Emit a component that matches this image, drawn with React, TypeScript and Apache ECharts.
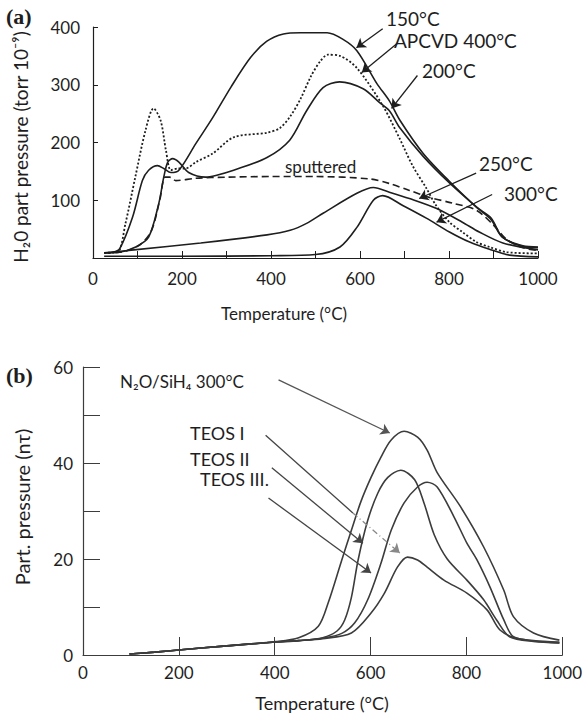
import React, { useEffect, useRef } from "react";
import * as echarts from "echarts";

// ---------- Panel (a): H2O part pressure vs temperature ----------
const t150 = [25, 45, 60, 89, 111, 125, 145, 159, 175, 193, 231, 269, 310, 354, 390, 428, 466, 526, 561, 593, 638, 666, 690, 742, 802, 862, 895, 920, 966, 1000];
const p150 = [9, 10, 16, 71, 134, 152, 160, 155, 148, 152, 198, 243, 296, 347, 375, 388, 390, 390, 379, 359, 302, 272, 238, 181, 132, 88, 69, 36, 20, 18];

const t200 = [25, 60, 96, 125, 148, 159, 168, 179, 193, 215, 253, 276, 316, 391, 442, 480, 517, 554, 607, 644, 666, 689, 742, 801, 868, 895, 920, 966, 1000];
const p200 = [9, 10, 19, 36, 95, 140, 166, 172, 166, 148, 140, 143, 152, 174, 204, 255, 295, 305, 293, 269, 255, 226, 176, 130, 84, 66, 36, 21, 19];

const tApcvd = [25, 55, 73, 95, 118, 136, 152, 164, 175, 190, 208, 231, 269, 316, 391, 420, 443, 466, 490, 510, 528, 555, 593, 651, 689, 718, 749, 771, 801, 830, 861, 891, 930, 1000];
const pApcvd = [9, 10, 60, 140, 221, 259, 238, 186, 152, 155, 155, 166, 181, 209, 217, 225, 245, 275, 315, 340, 352, 350, 329, 264, 207, 160, 121, 91, 62, 45, 28, 19, 10, 8];

const tSputtered = [25, 60, 100, 130, 150, 162, 172, 186, 231, 300, 400, 500, 621, 666, 711, 756, 808, 861, 900, 930, 965, 1000];
const pSputtered = [9, 10, 20, 45, 100, 140, 140, 134, 138, 140, 141, 141, 137, 129, 117, 105, 95, 83, 57, 32, 18, 13];

const t250 = [25, 92, 242, 391, 443, 480, 518, 593, 630, 666, 711, 771, 830, 868, 921, 1000];
const p250 = [9, 14, 26, 40, 48, 60, 78, 112, 122, 114, 103, 86, 62, 45, 26, 14];

const t300 = [25, 200, 400, 500, 555, 593, 630, 651, 696, 749, 801, 845, 891, 936, 1000];
const p300 = [3, 3, 4, 6, 19, 53, 100, 108, 91, 69, 45, 28, 15, 5, 2];

// ---------- Panel (b): partial pressure vs temperature ----------
const tN2O = [97, 150, 205, 300, 402, 450, 491, 512, 539, 560, 580, 601, 622, 643, 670, 698, 718, 739, 787, 836, 878, 898, 940, 994];
const pN2O = [0.2, 0.6, 1.1, 1.9, 2.8, 3.6, 6, 11, 19.5, 26, 32, 37, 41.3, 44.8, 46.6, 45.4, 42.7, 38, 31, 22.5, 13.5, 8, 4.6, 3.1];

const tTeos1 = [97, 150, 205, 300, 402, 450, 500, 560, 601, 629, 656, 677, 698, 718, 753, 801, 843, 870, 905, 994];
const pTeos1 = [0.2, 0.6, 1.1, 1.9, 2.7, 3.0, 3.4, 4.6, 8.75, 12.9, 18.3, 20.4, 19.8, 18.3, 15.6, 12.9, 9.4, 5.2, 3.5, 2.5];

const tTeos2 = [97, 150, 205, 300, 402, 450, 500, 530, 546, 560, 574, 594, 615, 636, 663, 692, 712, 733, 760, 801, 836, 863, 890, 940, 994];
const pTeos2 = [0.2, 0.6, 1.1, 1.9, 2.7, 3.0, 3.6, 5, 7.3, 12, 19.8, 28, 33.7, 37, 38.5, 36.5, 31.5, 25, 20, 15.6, 11.5, 7.3, 3.8, 2.8, 2.5];

const tTeos3 = [97, 150, 205, 300, 402, 450, 500, 540, 567, 594, 622, 643, 670, 698, 718, 739, 774, 801, 822, 849, 878, 898, 940, 994];
const pTeos3 = [0.2, 0.6, 1.1, 1.9, 2.7, 3.0, 3.5, 4.5, 6.7, 11.5, 19.2, 26, 31.7, 35, 36, 35, 28.8, 23.3, 19.8, 14.2, 7.3, 3.8, 3, 2.7];

// Annotation arrows in data coordinates: [fromT, fromP, toT, toP]
const arrowsA = {
  "150°C": [651, 397, 592, 364],
  "APCVD 400°C": [684, 372, 604, 321],
  "200°C": [729, 316, 671, 259],
  "250°C": [861, 147, 733, 103],
  "300°C": [897, 110, 772, 62],
};
const arrowN2O = [408, 57.3, 640, 46.25];
const arrowTeos1Solid = [381, 45.8, 563, 29.6];
const arrowTeos1Dash = [563, 29.6, 661, 21.25];
const arrowTeos2 = [394, 39, 584, 23.3];
const arrowTeos3 = [387, 32.7, 601, 17.1];

const FONT = 'Lato, "Open Sans", "DejaVu Sans", sans-serif';
const INK = "#1e1e1e";
const GRAY = "#3c3c3c";

const zip = (t: number[], p: number[]) => t.map((x, i) => [x, p[i]]);

function arrowML(a: number[], color: string, withHead = true, type: any = "solid") {
  return {
    silent: true,
    animation: false,
    symbol: ["none", withHead ? "arrow" : "none"],
    symbolSize: 9,
    label: { show: false },
    emphasis: { disabled: true },
    lineStyle: { color, width: 1.3, type },
    data: [[{ coord: [a[0], a[1]] }, { coord: [a[2], a[3]] }]],
  };
}

function lineSeries(name: string, t: number[], p: number[], idx: number, color: string, type: any, width: number, markLine?: any) {
  const s: any = {
    name,
    type: "line",
    xAxisIndex: idx,
    yAxisIndex: idx,
    data: zip(t, p),
    smooth: 0.3,
    symbol: "none",
    showSymbol: false,
    lineStyle: { color, width, type },
    emphasis: { disabled: true },
    z: 3,
  };
  if (markLine) s.markLine = markLine;
  return s;
}

function axisCommon() {
  return {
    type: "value" as const,
    splitLine: { show: false },
    axisLine: { show: true, onZero: false, lineStyle: { color: INK, width: 1.2 } },
  };
}

export default function App() {
  const ref = useRef<HTMLDivElement>(null);
  useEffect(() => {
    if (!ref.current) return;
    const chart = echarts.init(ref.current, undefined, { renderer: "svg" });
    const labelStyle = { fontSize: 17, color: INK, fontFamily: FONT };
    const annot = (text: string, x: number, y: number, size = 19, extra: any = {}) => ({
      type: "text",
      x,
      y,
      style: { text, fontSize: size, fontFamily: FONT, fill: INK, align: "left", verticalAlign: "middle", ...extra },
    });

    const option: any = {
      animation: false,
      backgroundColor: "#ffffff",
      grid: [
        { left: 93, top: 27, width: 445, height: 231 },
        { left: 83, top: 367, width: 482, height: 288 },
      ],
      xAxis: [
        {
          ...axisCommon(),
          gridIndex: 0,
          min: 0,
          max: 1000,
          interval: 100,
          axisTick: { show: true, inside: true, length: 7, lineStyle: { color: INK } },
          axisLabel: { ...labelStyle, margin: 12, formatter: (v: number) => (v % 200 === 0 ? String(v) : "") },
        },
        {
          ...axisCommon(),
          gridIndex: 1,
          min: 0,
          max: 1000,
          interval: 200,
          axisLine: { show: true, onZero: false, lineStyle: { color: GRAY, width: 1.2 } },
          axisTick: { show: true, inside: true, length: 18, lineStyle: { color: GRAY } },
          axisLabel: { ...labelStyle, margin: 9, formatter: (v: number) => String(v) },
        },
      ],
      yAxis: [
        {
          ...axisCommon(),
          gridIndex: 0,
          min: 0,
          max: 400,
          interval: 100,
          axisTick: { show: true, inside: true, length: 5, lineStyle: { color: INK } },
          axisLabel: { ...labelStyle, margin: 13, formatter: (v: number) => (v === 0 ? "" : String(v)) },
        },
        {
          ...axisCommon(),
          gridIndex: 1,
          min: 0,
          max: 60,
          interval: 10,
          axisLine: { show: true, onZero: false, lineStyle: { color: GRAY, width: 1.2 } },
          axisTick: { show: true, inside: true, length: 17, lineStyle: { color: GRAY } },
          axisLabel: { ...labelStyle, margin: 10, formatter: (v: number) => (v % 20 === 0 ? String(v) : "") },
        },
      ],
      series: [
        lineSeries("150°C", t150, p150, 0, INK, "solid", 1.6, arrowML(arrowsA["150°C"], INK)),
        lineSeries("200°C", t200, p200, 0, INK, "solid", 1.6, arrowML(arrowsA["200°C"], INK)),
        lineSeries("APCVD 400°C", tApcvd, pApcvd, 0, INK, [2, 2], 1.8, arrowML(arrowsA["APCVD 400°C"], INK)),
        lineSeries("sputtered", tSputtered, pSputtered, 0, INK, [7, 4], 1.6),
        lineSeries("250°C", t250, p250, 0, INK, "solid", 1.6, arrowML(arrowsA["250°C"], INK)),
        lineSeries("300°C", t300, p300, 0, INK, "solid", 1.6, arrowML(arrowsA["300°C"], INK)),
        lineSeries("N2O/SiH4 300°C", tN2O, pN2O, 1, GRAY, "solid", 1.6, arrowML(arrowN2O, "#555")),
        lineSeries("TEOS I", tTeos1, pTeos1, 1, GRAY, "solid", 1.6, {
          ...arrowML(arrowTeos1Solid, "#444", false),
          data: [
            [{ coord: [arrowTeos1Solid[0], arrowTeos1Solid[1]], symbol: "none" }, { coord: [arrowTeos1Solid[2], arrowTeos1Solid[3]], symbol: "none" }],
            [
              { coord: [arrowTeos1Dash[0], arrowTeos1Dash[1]], symbol: "none", lineStyle: { type: [6, 3, 1, 3], color: "#888" } },
              { coord: [arrowTeos1Dash[2], arrowTeos1Dash[3]], symbol: "arrow", lineStyle: { type: [6, 3, 1, 3], color: "#888" } },
            ],
          ],
        }),
        lineSeries("TEOS II", tTeos2, pTeos2, 1, GRAY, "solid", 1.6, arrowML(arrowTeos2, "#444")),
        lineSeries("TEOS III", tTeos3, pTeos3, 1, GRAY, "solid", 1.6, arrowML(arrowTeos3, "#444")),
      ],
      graphic: [
        annot("(a)", 6, 16, 22, { fontFamily: '"Liberation Serif", serif', fontWeight: "bold" }),
        annot("(b)", 6, 375, 22, { fontFamily: '"Liberation Serif", serif', fontWeight: "bold" }),
        annot("150°C", 386, 18),
        annot("APCVD 400°C", 394, 40),
        annot("200°C", 422, 70),
        annot("sputtered", 285, 166, 17),
        annot("250°C", 479, 163),
        annot("300°C", 504, 193),
        annot("N₂O/SiH₄ 300°C", 120, 381, 17),
        annot("TEOS I", 190, 433, 18),
        annot("TEOS II", 190, 459, 18),
        annot("TEOS III.", 200, 479, 18),
        annot("Temperature (°C)", 284, 313, 17, { align: "center" }),
        annot("Temperature (°C)", 322, 703, 18, { align: "center" }),
        {
          type: "text",
          x: 20,
          y: 147,
          rotation: Math.PI / 2,
          style: { text: "H₂0 part pressure (torr 10⁻⁹)", fontSize: 19, fontFamily: FONT, fill: INK, align: "center", verticalAlign: "middle" },
        },
        {
          type: "text",
          x: 22,
          y: 507,
          rotation: Math.PI / 2,
          style: { text: "Part. pressure (nτ)", fontSize: 20, fontFamily: FONT, fill: INK, align: "center", verticalAlign: "middle" },
        },
      ],
    };
    chart.setOption(option);
    return () => chart.dispose();
  }, []);
  return <div ref={ref} style={{ position: "absolute", left: 0, top: 0, width: 585, height: 720, background: "#fff" }} />;
}
